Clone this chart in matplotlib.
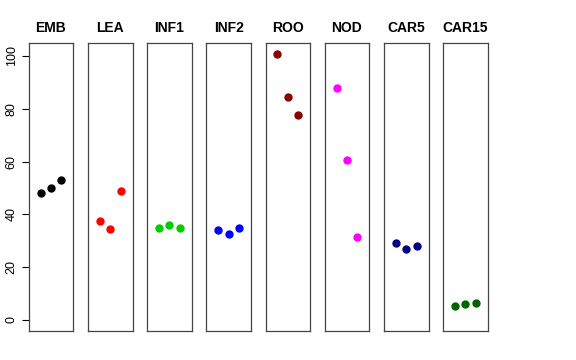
import matplotlib
matplotlib.use("Agg")
import matplotlib.pyplot as plt

plt.rcParams["font.family"] = ["Liberation Sans", "DejaVu Sans"]

tissues = ["EMB", "LEA", "INF1", "INF2", "ROO", "NOD", "CAR5", "CAR15"]
colors = ["black", "red", "#00CD00", "blue", "#8B0000", "magenta", "#000080", "#006400"]
reps = [1, 2, 3]
values = [
    [48.1, 50.0, 52.9],
    [37.6, 34.3, 48.7],
    [35.0, 36.0, 34.7],
    [34.0, 32.5, 34.7],
    [100.9, 84.3, 77.7],
    [87.9, 60.6, 31.6],
    [29.2, 26.9, 28.0],
    [5.4, 5.9, 6.4],
]
yticks = [0, 20, 40, 60, 80, 100]

W, H = 576, 360
fig = plt.figure(figsize=(W / 100, H / 100), dpi=100)
left0, pw, step = 28.7, 44.6, 59.2
top, bottom = 43.3, 331.0

for i, (name, col, vals) in enumerate(zip(tissues, colors, values)):
    x0 = left0 + i * step
    ax = fig.add_axes([x0 / W, 1 - bottom / H, pw / W, (bottom - top) / H])
    ax.plot(reps, vals, "o", color=col, ms=5, mec=col)
    ax.set_xlim(-0.16, 4.16)
    ax.set_ylim(-4.2, 104.8)
    ax.set_xticks([])
    for s in ax.spines.values():
        s.set_color("#444444")
        s.set_linewidth(0.9)
    ax.set_title(name, fontsize=10, fontweight="bold", pad=8)
    if i == 0:
        ax.set_yticks(yticks)
        ax.tick_params(axis="y", labelsize=9, length=5, width=0.8, pad=3)
        for lab in ax.get_yticklabels():
            lab.set_rotation(90)
            lab.set_va("center")
    else:
        ax.set_yticks([])

fig.savefig("out.png", dpi=100)
